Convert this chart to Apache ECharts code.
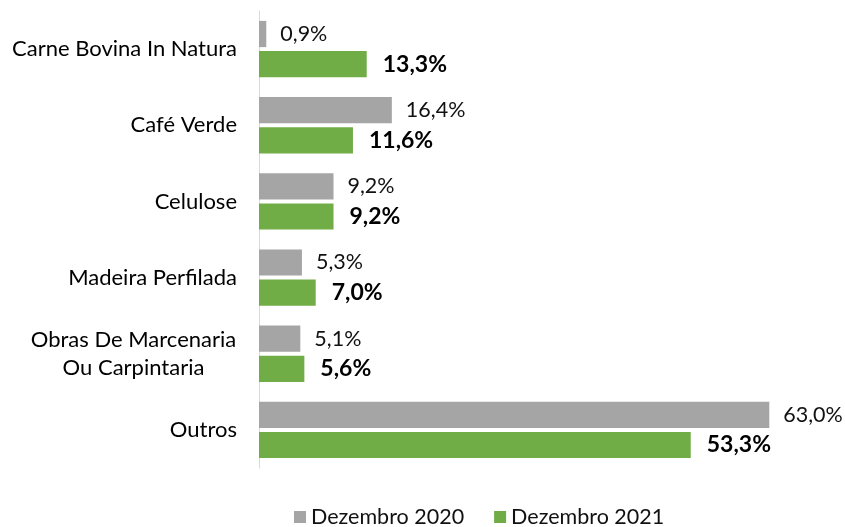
<!DOCTYPE html>
<html>
<head>
<meta charset="utf-8">
<script src="https://cdn.jsdelivr.net/npm/echarts@6/dist/echarts.min.js"></script>
<style>
  html, body { margin: 0; padding: 0; background: #fff; }
  #chart { width: 845px; height: 527px; }
</style>
</head>
<body>
<div id="chart"></div>
<script>
const categories = ['Carne Bovina In Natura', 'Café Verde', 'Celulose', 'Madeira Perfilada',
  'Obras De Marcenaria\nOu Carpintaria', 'Outros'];
const seriesNames = ['Dezembro 2020', 'Dezembro 2021'];
const dez2020 = [0.9, 16.4, 9.2, 5.3, 5.1, 63.0];
const dez2021 = [13.3, 11.6, 9.2, 7.0, 5.6, 53.3];

const font = 'Lato, "Open Sans", sans-serif';
const fmt = (p) => p.value.toFixed(1).replace('.', ',') + '%';

const chart = echarts.init(document.getElementById('chart'));
chart.setOption({
  animation: false,
  textStyle: { fontFamily: font },
  grid: { left: 259, right: 19, top: 11, bottom: 59 },
  legend: {
    bottom: -6,
    left: 289,
    itemWidth: 12,
    itemHeight: 12,
    itemGap: 30,
    icon: 'rect',
    textStyle: { fontSize: 21.5, color: '#111', fontFamily: font },
    data: seriesNames
  },
  xAxis: { type: 'value', min: 0, max: 70, show: false },
  yAxis: {
    type: 'category',
    inverse: true,
    data: categories,
    axisLine: { lineStyle: { color: '#d9d9d9', width: 1 } },
    axisTick: { show: false },
    axisLabel: {
      margin: 22,
      color: '#000',
      fontSize: 22,
      fontFamily: font,
      formatter: (v) => v.indexOf('\n') >= 0 ? '{c|' + v + '}' : v,
      rich: { c: { width: 207, align: 'center', fontSize: 22, lineHeight: 28, color: '#000', fontFamily: font } }
    }
  },
  series: [
    {
      name: seriesNames[0],
      type: 'bar',
      data: dez2020,
      barGap: '15%',
      barCategoryGap: '26%',
      itemStyle: { color: '#A5A5A5' },
      label: { show: true, position: 'right', distance: 14, formatter: fmt,
        fontSize: 21.5, color: '#111', fontFamily: font }
    },
    {
      name: seriesNames[1],
      type: 'bar',
      data: dez2021,
      itemStyle: { color: '#70AD47' },
      label: { show: true, position: 'right', distance: 16, formatter: fmt,
        fontSize: 23, fontWeight: 'bold', color: '#000', fontFamily: font }
    }
  ]
});
</script>
</body>
</html>
